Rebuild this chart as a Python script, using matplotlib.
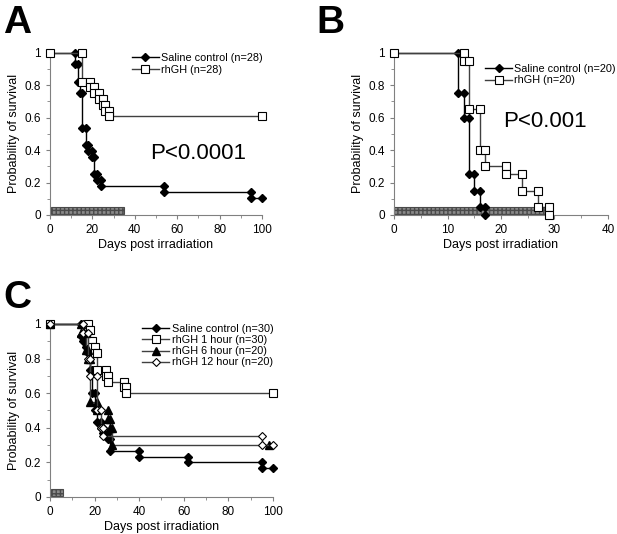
import numpy as np
import matplotlib.pyplot as plt
from matplotlib.ticker import MultipleLocator

plt.rcParams['font.family'] = ['Liberation Sans', 'DejaVu Sans']

# Panel A (days of death, survival after each step)
a_saline_t = [12, 13, 14, 15, 17, 18, 20, 21, 22, 24, 54, 95]
a_saline_s = [0.929, 0.821, 0.75, 0.536, 0.429, 0.393, 0.357, 0.25, 0.214, 0.179, 0.143, 0.107]
a_rhgh_t = [15, 19, 21, 23, 25, 26, 28]
a_rhgh_s = [0.821, 0.786, 0.75, 0.714, 0.679, 0.643, 0.607]

# Panel B
b_saline_t = [12, 13, 14, 15, 16, 17]
b_saline_s = [0.75, 0.6, 0.25, 0.15, 0.05, 0.0]
b_rhgh_t = [13, 14, 16, 17, 21, 24, 27, 29]
b_rhgh_s = [0.95, 0.65, 0.4, 0.3, 0.25, 0.15, 0.05, 0.0]

# Panel C
c_saline_t = [14, 15, 16, 17, 18, 19, 20, 21, 23, 24, 26, 27, 40, 62, 95]
c_saline_s = [0.933, 0.9, 0.867, 0.833, 0.733, 0.6, 0.5, 0.433, 0.4, 0.367, 0.333, 0.267, 0.233, 0.2, 0.167]
c_1h_t = [17, 18, 19, 20, 21, 25, 26, 33, 34]
c_1h_s = [0.967, 0.9, 0.867, 0.833, 0.733, 0.7, 0.667, 0.633, 0.6]
c_6h_t = [14, 16, 17, 18, 21, 26, 27, 28]
c_6h_s = [0.95, 0.85, 0.8, 0.55, 0.5, 0.45, 0.4, 0.3]
c_12h_t = [15, 17, 18, 21, 23, 24, 95]
c_12h_s = [0.95, 0.8, 0.7, 0.5, 0.4, 0.35, 0.3]

# treatment bars (start, end)
a_bar = (0.5, 35)
b_bar = (0, 29)
c_bar = (0.3, 5.7)

SAL = dict(color='black', marker='D', markersize=4, mfc='black', mec='black')
SQ = dict(color='#404040', marker='s', markersize=5.5, mfc='white', mec='black', mew=0.8)
TRI = dict(color='#404040', marker='^', markersize=5.5, mfc='black', mec='black')
DIA = dict(color='#404040', marker='D', markersize=4, mfc='white', mec='black', mew=0.8)


def km(ax, times, vals, end, label, style):
    xs, ys = [0], [1]
    prev = 1
    for t, v in zip(times, vals):
        xs += [t, t]
        ys += [prev, v]
        prev = v
    if end is not None:
        xs.append(end)
        ys.append(prev)
    ax.plot(xs, ys, lw=1, clip_on=False, label=label, zorder=3, **style)


def setup(ax, xmax, xmajor, xminor, bar):
    ax.add_patch(plt.Rectangle((bar[0], 0.004), bar[1] - bar[0], 0.044,
                               facecolor='#8a8a8a', edgecolor='#4a4a4a',
                               hatch='++++', lw=0.8, zorder=2, clip_on=False))
    ax.set_xlim(0, xmax)
    ax.set_ylim(0, 1)
    for s in ['top', 'right']:
        ax.spines[s].set_visible(False)
    for s in ['left', 'bottom']:
        ax.spines[s].set_color('#808080')
    ax.xaxis.set_major_locator(MultipleLocator(xmajor))
    ax.xaxis.set_minor_locator(MultipleLocator(xminor))
    ax.yaxis.set_minor_locator(MultipleLocator(0.1))
    ax.set_yticks([0, 0.2, 0.4, 0.6, 0.8, 1.0])
    ax.set_yticklabels(['0', '0.2', '0.4', '0.6', '0.8', '1'])
    ax.tick_params(which='both', direction='out', color='#808080', labelsize=8.5)
    ax.tick_params(which='major', length=3)
    ax.tick_params(which='minor', length=2)
    ax.set_xlabel('Days post irradiation', fontsize=9, labelpad=2)
    ax.set_ylabel('Probability of survival', fontsize=9, labelpad=3)


fig = plt.figure(figsize=(6.17, 5.34), dpi=100)
LEG = dict(loc='upper left', frameon=False, fontsize=7.8, handlelength=2.5,
           handletextpad=0.2, borderpad=0)

axA = fig.add_axes([0.081, 0.5974, 0.3436, 0.304])
setup(axA, 100, 20, 10, a_bar)
km(axA, a_saline_t, a_saline_s, 100, 'Saline control (n=28)', SAL)
km(axA, a_rhgh_t, a_rhgh_s, 100, 'rhGH (n=28)', SQ)
axA.legend(bbox_to_anchor=(0.36, 1.03), labelspacing=0.15, **LEG)
axA.text(70, 0.38, 'P<0.0001', fontsize=16, ha='center', va='center')

axB = fig.add_axes([0.6386, 0.5974, 0.3468, 0.304])
setup(axB, 40, 10, 5, b_bar)
km(axB, b_saline_t, b_saline_s, None, 'Saline control (n=20)', SAL)
km(axB, b_rhgh_t, b_rhgh_s, None, 'rhGH (n=20)', SQ)
axB.legend(bbox_to_anchor=(0.40, 0.965), labelspacing=0.15, **LEG)
axB.text(28.2, 0.575, 'P<0.001', fontsize=16, ha='center', va='center')

axC = fig.add_axes([0.081, 0.0693, 0.3614, 0.324])
setup(axC, 100, 20, 10, c_bar)
km(axC, c_saline_t, c_saline_s, 100, 'Saline control (n=30)', SAL)
km(axC, c_1h_t, c_1h_s, 100, 'rhGH 1 hour (n=30)', SQ)
km(axC, c_6h_t, c_6h_s, 98, 'rhGH 6 hour (n=20)', TRI)
km(axC, c_12h_t, c_12h_s, 100, 'rhGH 12 hour (n=20)', DIA)
axC.legend(bbox_to_anchor=(0.39, 1.03), labelspacing=0.1, **LEG)

fig.text(0.005, 0.99, 'A', fontsize=28, fontweight='bold', va='top')
fig.text(0.512, 0.99, 'B', fontsize=28, fontweight='bold', va='top')
fig.text(0.005, 0.475, 'C', fontsize=28, fontweight='bold', va='top')

fig.savefig('out.png', dpi=100)
